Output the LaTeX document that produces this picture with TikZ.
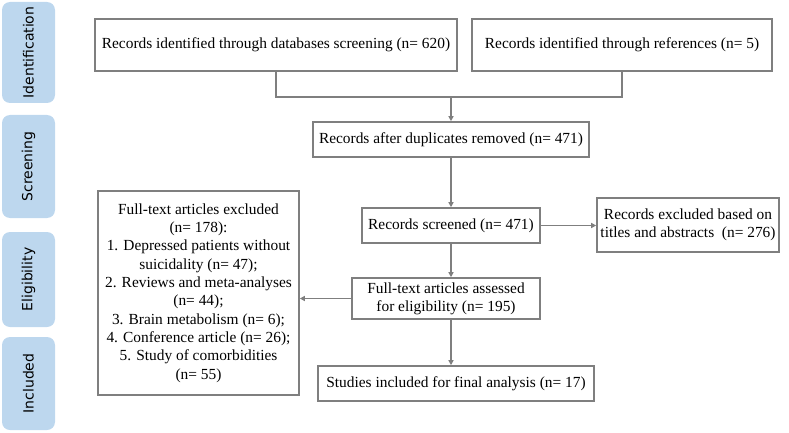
\documentclass[tikz,border=0pt]{standalone}
\usepackage{fontspec}
\setmainfont{Liberation Serif}
\newfontfamily\labelfont{DejaVu Sans}
\usepackage{tikz}
\usetikzlibrary{positioning, arrows.meta}
\definecolor{stagefill}{HTML}{BDD7EE}
\definecolor{linegray}{HTML}{7F7F7F}

\tikzset{
  box/.style={draw=linegray, line width=1.6pt, align=center, inner sep=0pt,
    font=\fontsize{15.4}{18.3}\selectfont},
  stagetext/.style={rotate=90, font=\labelfont\fontsize{14}{16}\selectfont},
  flow/.style={draw=linegray, line width=1.6pt, -{Triangle[length=5pt,width=5pt]}},
}

\begin{document}
\begin{tikzpicture}[x=1pt,y=-1pt]
\useasboundingbox (0,0) rectangle (789,433);
% stages on the left
\fill[stagefill, rounded corners=8pt] (2,2) rectangle (55,103);
\fill[stagefill, rounded corners=8pt] (2,115) rectangle (55,218);
\fill[stagefill, rounded corners=8pt] (2,232) rectangle (55,327);
\fill[stagefill, rounded corners=8pt] (2,337) rectangle (55,430);
\node[stagetext] (ident) at (28.5,52.5) {Identification};
\node[stagetext] (screen) at (28.5,166.5) {Screening};
\node[stagetext] (elig) at (28.5,279.5) {Eligibility};
\node[stagetext] (incl) at (28.5,383.5) {Included};

% boxes
\node[box, minimum width=362pt, minimum height=52pt] (db) at (276,45)
  {Records identified through databases screening (n= 620)};
\node[box, minimum width=300pt, minimum height=52pt] (refs) at (622,45)
  {Records identified through references (n= 5)};
\node[box, minimum width=276pt, minimum height=35pt] (dup) at (451,139.5)
  {Records after duplicates removed (n= 471)};
\node[box, minimum width=178pt, minimum height=35pt] (scr) at (451,225.5)
  {Records screened (n= 471)};
\node[box, minimum width=182pt, minimum height=54pt] (exc) at (688,225)
  {Records excluded based on\\titles and abstracts~~(n= 276)};
\node[box, minimum width=188pt, minimum height=41pt] (full) at (446,298.5)
  {Full-text articles assessed\\for eligibility (n= 195)};
\node[box, minimum width=276pt, minimum height=35pt] (inc) at (456,383.5)
  {Studies included for final analysis (n= 17)};
\node[box, minimum width=201pt, minimum height=204pt] (fexc) at (198.5,293)
  {Full-text articles excluded\\(n= 178):\\1. Depressed patients without\\suicidality (n= 47);\\
   2. Reviews and meta-analyses\\(n= 44);\\3. Brain metabolism (n= 6);\\
   4. Conference article (n= 26);\\5. Study of comorbidities\\(n= 55)};

% connectors
\coordinate (join) at (451,97);
\draw[draw=linegray, line width=1.6pt] (db.south) -- (db.south |- join) -- (refs.south |- join) -- (refs.south);
\draw[flow] (join) -- (dup.north);
\draw[flow] (dup.south) -- (scr.north);
\draw[flow] (scr.east) -- (exc.west |- scr.east);
\draw[flow] (scr.south) -- (scr.south |- full.north);
\draw[flow] (full.west) -- (fexc.east |- full.west);
\draw[flow] (scr.south |- full.south) -- (scr.south |- inc.north);
\end{tikzpicture}
\end{document}
